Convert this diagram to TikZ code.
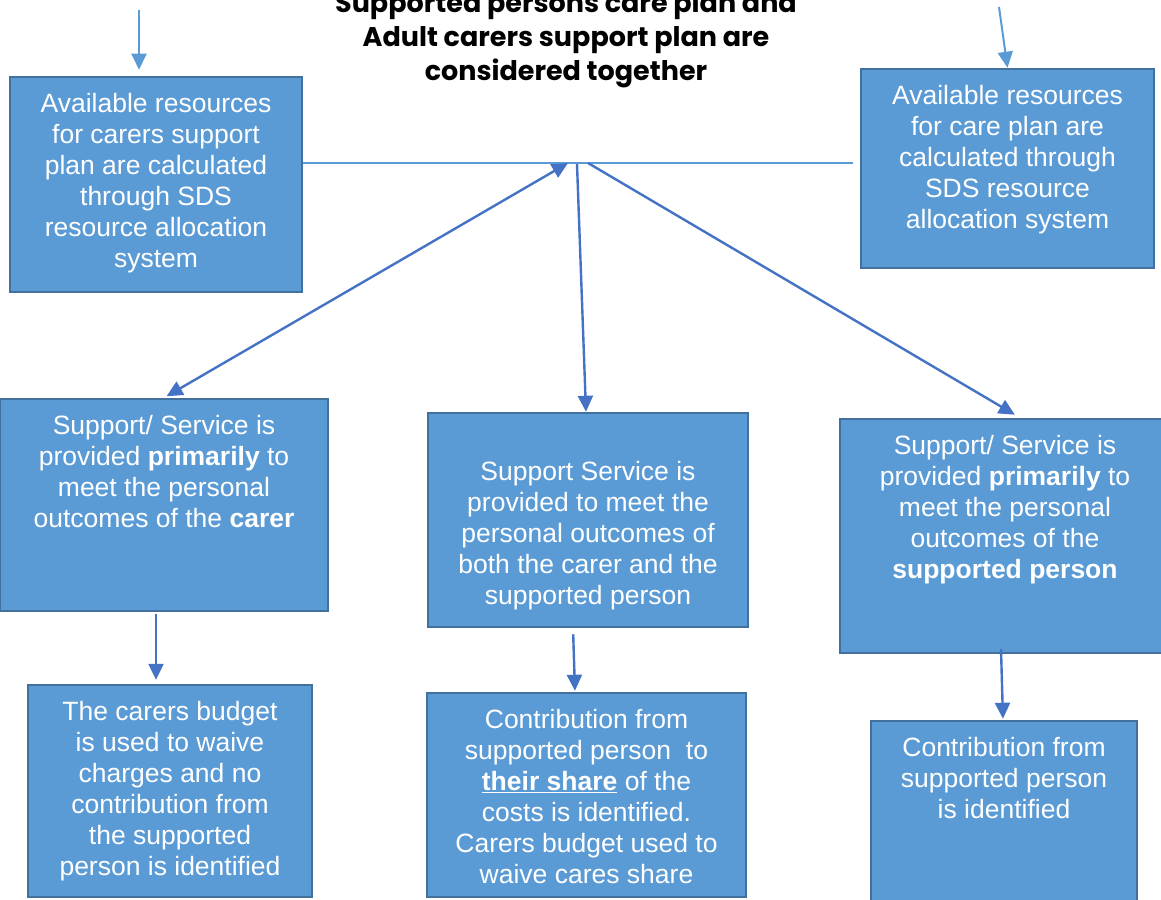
\documentclass[tikz,border=0pt]{standalone}
\usepackage{fontspec}
\setmainfont{Liberation Sans}
\newfontfamily\titlefont{Poppins}
\usetikzlibrary{arrows.meta}
\usetikzlibrary{positioning}

\begin{document}
\begin{tikzpicture}[x=1pt, y=-1pt,
    box/.style={draw=BoxLine, fill=BoxFill, line width=2.5pt, inner sep=0pt},
    boxtext/.style={text=white, align=center, inner sep=0pt, font=\fontsize{26.5}{31}\selectfont},
    flow/.style={draw=ArrowDark, line width=2.4pt, -{Triangle[length=16pt,width=15pt]}},
    feed/.style={draw=ArrowLight, line width=2pt, -{Triangle[length=16pt,width=15pt]}}]
    \definecolor{BoxFill}{RGB}{91,155,213}
    \definecolor{BoxLine}{RGB}{65,113,156}
    \definecolor{ArrowDark}{RGB}{68,114,196}
    \definecolor{ArrowLight}{RGB}{91,155,213}
    \def \TextGap {17pt}

    \useasboundingbox (0,0) rectangle (1161,899);

    % heading
    \node[font=\titlefont\bfseries\fontsize{27}{34}\selectfont, align=center, anchor=north, inner sep=0pt] (title) at (566,-8)
        {Supported persons care plan and\\Adult carers support plan are\\considered together};

    % resource boxes
    \node[box, minimum width=292pt, minimum height=215pt] (carerres) at (156,184.5) {};
    \node[box, minimum width=293pt, minimum height=199pt] (careres) at (1007.5,168.5) {};
    \node[boxtext, below=\TextGap of carerres.north] (carerrestext)
        {Available resources\\for carers support\\plan are calculated\\through SDS\\resource allocation\\system};
    \node[boxtext, below=\TextGap of careres.north] (carerestext)
        {Available resources\\for care plan are\\calculated through\\SDS resource\\allocation system};

    % service boxes
    \node[box, minimum width=328pt, minimum height=212pt] (forcarer) at (164,505) {};
    \node[box, minimum width=320pt, minimum height=214pt] (forboth) at (588,520) {};
    \node[box, minimum width=330pt, minimum height=234pt] (forperson) at (1005,536) {};
    \node[boxtext, below=\TextGap of forcarer.north] (forcarertext)
        {Support/ Service is\\provided \textbf{primarily} to\\meet the personal\\outcomes of the \textbf{carer}};
    \node[boxtext, below=49pt of forboth.north] (forbothtext)
        {Support Service is\\provided to meet the\\personal outcomes of\\both the carer and the\\supported person};
    \node[boxtext, below=\TextGap of forperson.north] (forpersontext)
        {Support/ Service is\\provided \textbf{primarily} to\\meet the personal\\outcomes of the\\\textbf{supported person}};

    % contribution boxes
    \node[box, minimum width=284pt, minimum height=212pt] (waive) at (170,791) {};
    \node[box, minimum width=319pt, minimum height=204pt] (share) at (586.5,795) {};
    \node[box, minimum width=266pt, minimum height=189pt] (contrib) at (1004,815.5) {};
    \node[boxtext, below=\TextGap of waive.north] (waivetext)
        {The carers budget\\is used to waive\\charges and no\\contribution from\\the supported\\person is identified};
    \node[boxtext, below=\TextGap of share.north] (sharetext)
        {Contribution from\\supported person\ \ to\\\underline{\textbf{their share}} of the\\costs is identified.\\Carers budget used to\\waive cares share};
    \node[boxtext, below=\TextGap of contrib.north] (contribtext)
        {Contribution from\\supported person\\is identified};

    % incoming arrows and the joining line
    \coordinate (carerin) at (139,10);
    \coordinate (carein) at (999,7);
    \coordinate (hub) at (577,164);
    \coordinate (hubleft) at (568,163);
    \coordinate (hubright) at (588,163);
    \coordinate (lineend) at (853,163);
    \draw[feed, shorten >=6pt] (carerin) -- (carerin |- carerres.north);
    \draw[feed] (carein) -- (careres.north);
    \draw[ArrowLight, line width=1.2pt] (carerres.east |- lineend) -- (lineend);

    % split into the three services
    \draw[flow, {Triangle[length=16pt,width=15pt]}-{Triangle[length=16pt,width=15pt]}, shorten >=3pt] (hubleft) -- (forcarer.north);
    \draw[flow] (hub) -- (forboth.north -| 586,0);
    \draw[flow, shorten >=6pt] (hubright) -- (forperson.north -| 1020,0);

    % down to the contributions
    \draw[flow, shorten <=2pt, shorten >=4pt] (forcarer.south -| 156,0) -- (waive.north -| 156,0);
    \draw[flow, shorten <=6pt, shorten >=1pt] (forboth.south -| 573,0) -- (share.north -| 575,0);
    \draw[flow, shorten >=1pt] (1001,649) -- (contrib.north -| 1003,0);
\end{tikzpicture}
\end{document}
